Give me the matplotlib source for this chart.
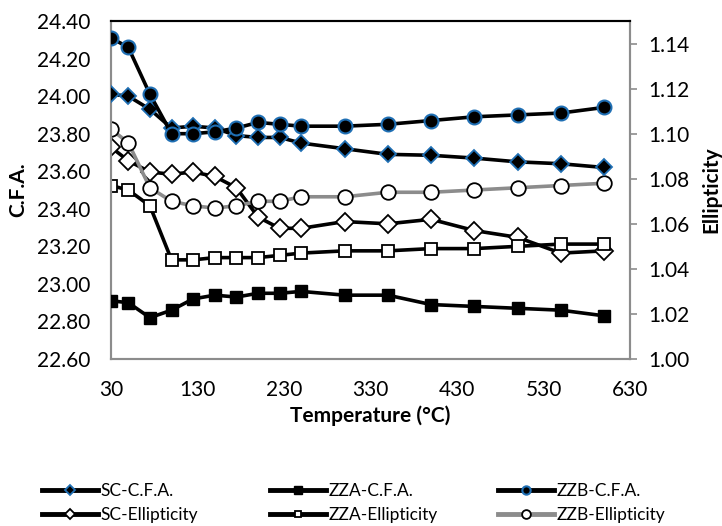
import matplotlib
matplotlib.use("Agg")
import matplotlib.pyplot as plt
from matplotlib.ticker import FormatStrFormatter

plt.rcParams['font.family'] = ['Lato', 'DejaVu Sans']

temp = [30, 50, 75, 100, 125, 150, 175, 200, 225, 250, 300, 350, 400, 450, 500, 550, 600]

# C.F.A. (left axis)
sc_cfa = [24.01, 24.00, 23.93, 23.83, 23.84, 23.83, 23.79, 23.78, 23.78, 23.75, 23.72,
          23.69, 23.685, 23.67, 23.65, 23.64, 23.62]
zza_cfa = [22.91, 22.90, 22.82, 22.86, 22.92, 22.94, 22.93, 22.95, 22.95, 22.96, 22.94,
           22.94, 22.89, 22.88, 22.87, 22.86, 22.83]
zzb_cfa = [24.31, 24.26, 24.01, 23.80, 23.80, 23.81, 23.83, 23.86, 23.85, 23.84, 23.84,
           23.85, 23.87, 23.89, 23.90, 23.91, 23.94]

# Ellipticity (right axis)
sc_ell = [1.094, 1.088, 1.083, 1.082, 1.083, 1.081, 1.076, 1.063, 1.058, 1.058, 1.061,
          1.060, 1.062, 1.057, 1.054, 1.047, 1.048]
zza_ell = [1.077, 1.075, 1.068, 1.044, 1.044, 1.045, 1.045, 1.045, 1.046, 1.047, 1.048,
           1.048, 1.049, 1.049, 1.050, 1.051, 1.051]
zzb_ell = [1.102, 1.096, 1.076, 1.070, 1.068, 1.067, 1.068, 1.070, 1.070, 1.072, 1.072,
           1.074, 1.074, 1.075, 1.076, 1.077, 1.078]

blue = "#1f6fb4"
gray = "#8c8c8c"

fig = plt.figure(figsize=(7.22, 5.26), dpi=100)
ax = fig.add_axes([0.1537, 0.3175, 0.7189, 0.6425])
ax2 = ax.twinx()

lw = 2.6
h1, = ax.plot(temp, sc_cfa, color="black", lw=lw, marker="D", ms=8.5,
              mfc="black", mec=blue, mew=1.3, label="SC-C.F.A.", zorder=3)
h2, = ax.plot(temp, zza_cfa, color="black", lw=lw, marker="s", ms=8.5,
              mfc="black", mec="black", label="ZZA-C.F.A.", zorder=3)
h3, = ax.plot(temp, zzb_cfa, color="black", lw=lw, marker="o", ms=10,
              mfc="black", mec=blue, mew=1.5, label="ZZB-C.F.A.", zorder=3)
h4, = ax2.plot(temp, sc_ell, color="black", lw=lw, marker="D", ms=9,
               mfc="white", mec="black", mew=1.3, label="SC-Ellipticity")
h5, = ax2.plot(temp, zza_ell, color="black", lw=lw, marker="s", ms=8,
               mfc="white", mec="black", mew=1.3, label="ZZA-Ellipticity")
h6, = ax2.plot(temp, zzb_ell, color=gray, lw=lw, marker="o", ms=10.5,
               mfc="white", mec="black", mew=1.3, label="ZZB-Ellipticity")

ax.set_zorder(ax2.get_zorder() + 1)
ax.patch.set_visible(False)

ax.set_xlim(30, 630)
ax.set_xticks(range(30, 631, 100))
ax.set_ylim(22.6, 24.4)
ax.set_yticks([22.6 + 0.2 * i for i in range(10)])
ax.yaxis.set_major_formatter(FormatStrFormatter("%.2f"))
ax2.set_ylim(1.00, 1.15)
ax2.set_yticks([1.00 + 0.02 * i for i in range(8)])
ax2.yaxis.set_major_formatter(FormatStrFormatter("%.2f"))

for a in (ax, ax2):
    for s in a.spines.values():
        s.set_color(gray)
        s.set_linewidth(1.5)
    a.spines["top"].set_color("black")
ax.tick_params(axis="y", length=0, labelsize=15, pad=15)
ax.tick_params(axis="x", length=0, labelsize=15, pad=15)
ax2.tick_params(axis="y", length=5, width=1.2, color=gray, labelsize=15, pad=8)

ax.set_xlabel("Temperature (°C)", fontsize=15, fontweight="bold", labelpad=4)
ax.set_ylabel("C.F.A.", fontsize=15, fontweight="bold", labelpad=6)
ax2.set_ylabel("Ellipticity", fontsize=15, fontweight="bold", labelpad=9)

# three legend columns, two rows each
for hs, x0 in [((h1, h4), 42), ((h2, h5), 270), ((h3, h6), 498)]:
    leg = fig.legend(hs, [h.get_label() for h in hs], loc="center left",
                     bbox_to_anchor=(x0 / 722, 1 - 503 / 526), frameon=False,
                     fontsize=12.5, handlelength=3.2, markerscale=0.6,
                     labelspacing=0.45, handletextpad=0.15,
                     borderpad=0, borderaxespad=0)
    for ln in leg.get_lines():
        ln.set_linewidth(3.5)

fig.savefig("out.png", dpi=100)
